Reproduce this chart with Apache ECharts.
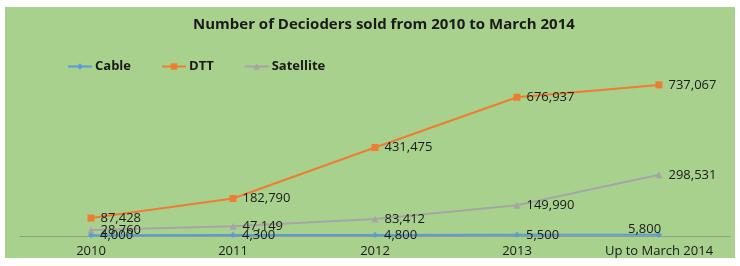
<!DOCTYPE html>
<html>
<head>
<meta charset="utf-8">
<script src="https://cdn.jsdelivr.net/npm/echarts@6/dist/echarts.min.js"></script>
<style>
  html, body { margin: 0; padding: 0; background: #fff; }
  #chart { width: 740px; height: 266px; }
</style>
</head>
<body>
<div id="chart"></div>
<script>
var years = ["2010", "2011", "2012", "2013", "Up to March 2014"];
var cable = [4000, 4300, 4800, 5500, 5800];
var dtt = [87428, 182790, 431475, 676937, 737067];
var satellite = [28760, 47149, 83412, 149990, 298531];

var myChart = echarts.init(document.getElementById("chart"));

var labelStyle = {
  show: true,
  position: "right",
  distance: 6,
  color: "#1a1a1a",
  fontSize: 13,
  fontFamily: "Open Sans",
  formatter: function (p) {
    return p.value.toLocaleString("en-US");
  },
};

var option = {
  backgroundColor: "#fff",
  animation: false,
  graphic: [
    {
      type: "rect",
      z: -10,
      shape: { x: 5, y: 7, width: 730, height: 251 },
      style: { fill: "#a9d18e" },
    },
  ],
  title: {
    text: "Number of Decioders sold from 2010 to March 2014",
    left: 188,
    top: 12,
    textStyle: {
      fontFamily: "Open Sans",
      fontSize: 15,
      fontWeight: "bold",
      color: "#1a1a1a",
    },
  },
  legend: {
    left: 62,
    top: 55,
    itemGap: 30,
    itemWidth: 24,
    itemHeight: 8,
    textStyle: {
      fontFamily: "Open Sans",
      fontSize: 13,
      fontWeight: "bold",
      color: "#1a1a1a",
      padding: [0, 0, 0, -2],
    },
    data: ["Cable", "DTT", "Satellite"],
  },
  grid: {
    left: 20,
    right: 10,
    top: 72,
    bottom: 30,
    containLabel: false,
  },
  xAxis: {
    type: "category",
    data: years,
    boundaryGap: true,
    axisLine: { show: true, lineStyle: { color: "#8f9f86", width: 1 } },
    axisTick: { show: false },
    axisLabel: {
      color: "#1a1a1a",
      fontSize: 13,
      fontWeight: 500,
      fontFamily: "Open Sans",
      margin: 9,
      interval: 0,
    },
  },
  yAxis: {
    type: "value",
    min: 0,
    max: 800000,
    show: false,
    splitLine: { show: false },
  },
  series: [
    {
      name: "Cable",
      type: "line",
      data: cable,
      color: "#5b9bd5",
      symbol: "diamond",
      symbolSize: 6,
      lineStyle: { width: 2 },
      label: labelStyle,
      labelLayout: function (p) {
        if (p.dataIndex === 4) {
          return { x: p.labelRect.x - 40, y: p.labelRect.y - 6 };
        }
        return {};
      },
      z: 4,
    },
    {
      name: "DTT",
      type: "line",
      data: dtt,
      color: "#ed7d31",
      symbol: "rect",
      symbolSize: 7,
      lineStyle: { width: 2 },
      label: labelStyle,
      z: 3,
    },
    {
      name: "Satellite",
      type: "line",
      data: satellite,
      color: "#a5a5a5",
      symbol: "triangle",
      symbolSize: 7,
      lineStyle: { width: 2 },
      label: labelStyle,
      z: 2,
    },
  ],
};

myChart.setOption(option);
</script>
</body>
</html>
